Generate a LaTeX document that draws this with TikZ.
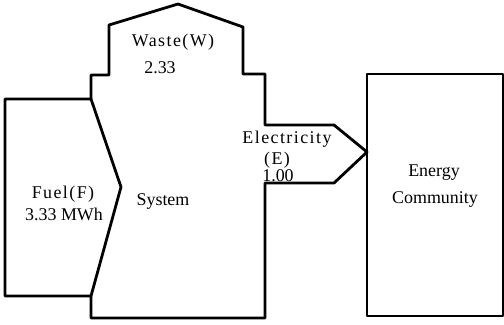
\documentclass[tikz,border=0pt]{standalone}
\usepackage{fontspec}
\setmainfont{Liberation Serif}
\newfontfamily\spacedfont[LetterSpace=8]{Liberation Serif}
\begin{document}
\begin{tikzpicture}
% Energy flow picture: fuel into the system, waste and electricity out
\def\unitsz{1bp}
\providecommand{\flowLineColor}{black}
\providecommand{\flowLineWidth}{2.8pt}
\tikzset{
  flowlabel/.style={anchor=base, inner sep=0pt, font=\fontsize{18}{20}\selectfont},
  spacedlabel/.style={anchor=base, inner sep=0pt, font=\spacedfont\fontsize{18}{20}\selectfont},
}
\begin{scope}[x=\unitsz, y=-\unitsz, line cap=round, line join=round]
  \useasboundingbox (0,0) rectangle (504,324);
  \begin{scope}[draw=\flowLineColor, line width=\flowLineWidth]
    % Fuel input, pointed into the system
    \draw (5,99) -- (91,99) -- (121,187) -- (91,296) -- (5,296) -- cycle;
    % System with waste stack on top and electricity outlet on the right
    \draw (91,296) -- (91,318) -- (265,318) -- (265,183) -- (334,183)
      -- (367,152) -- (334,125) -- (265,125) -- (265,74) -- (243,74)
      -- (243,27) -- (178,4) -- (109,25) -- (109,75) -- (91,75) -- (91,99);
    % Energy community
    \draw (367,74) rectangle (503,316);
  \end{scope}
  % Labels
  \node[spacedlabel] (wastelbl) at (173,46) {Waste(W)};
  \node[flowlabel] (wasteval) at (160,73) {2.33};
  \node[spacedlabel] (eleclbl) at (287,143) {Electricity};
  \node[spacedlabel] (elecsym) at (277,164) {(E)};
  \node[flowlabel] (elecval) at (278,181) {1.00};
  \node[spacedlabel] (fuellbl) at (63,198) {Fuel(F)};
  \node[flowlabel] (fuelval) at (64,220) {3.33 MWh};
  \node[flowlabel] (syslbl) at (163,205) {System};
  \node[flowlabel] (commlbl1) at (434,176) {Energy};
  \node[flowlabel] (commlbl2) at (435,203) {Community};
\end{scope}
\end{tikzpicture}
\end{document}
